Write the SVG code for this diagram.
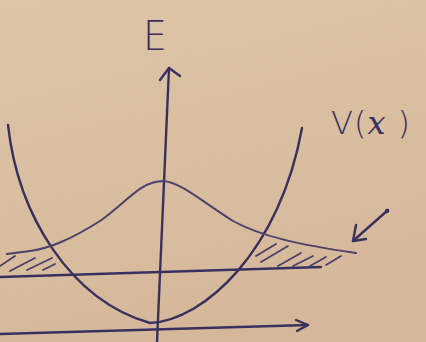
<svg xmlns="http://www.w3.org/2000/svg" width="426" height="342" viewBox="0 0 426 342">
<defs>
<linearGradient id="paper" x1="0" y1="0" x2="0.3" y2="1">
<stop offset="0" stop-color="#dec5a8"/>
<stop offset="1" stop-color="#d5b899"/>
</linearGradient>
<style>
.ink{fill:none;stroke:#3a305e;stroke-width:2.4;stroke-linecap:round;stroke-linejoin:round}
.thin{fill:none;stroke:#4d416c;stroke-width:2;stroke-linecap:round;stroke-linejoin:round}
.hatch{fill:none;stroke:#4a3f68;stroke-width:1.8;stroke-linecap:round}
.lbl{font-family:"DejaVu Sans",sans-serif;font-weight:300;fill:#3a305e}
</style>
</defs>
<rect width="426" height="342" fill="url(#paper)"/>
<g id="connectors">
<g id="e-axis"><path class="ink" d="M157,342 L169,68"/><path class="ink" d="M160,80 L169,68 L180,76"/></g>
<g id="x-axis"><path class="ink" d="M0,334 L308,325"/><path class="ink" d="M296,320 L308,325 L297,331"/></g>
<g id="energy-level"><path class="ink" d="M0,277 L321,267"/></g>
<g id="pointer"><path class="ink" d="M388,210 L353,241"/><path class="ink" d="M356,225 L353,241 L366,239"/><circle cx="387" cy="211" r="2.2" fill="#3a305e"/></g>
</g>
<g id="potential"><path class="ink" d="M8,125 C18,215 70,300 150,323 C205,320 280,250 302,128"/></g>
<g id="wavefunction"><path class="thin" d="M7,254 L30,251 C50,248 70,240 100,221 C125,204 140,181 163,181 C180,182 200,200 233,221 C260,236 300,245 356,253"/></g>
<g id="hatch-left">
<path class="hatch" d="M0,266 L15,256 M10,271 L35,258 M27,270 L52,258 M43,270 L55,264"/>
</g>
<g id="hatch-right">
<path class="hatch" d="M256,256 L276,244 M261,262 L288,246 M278,266 L301,253 M293,266 L313,256 M310,266 L326,257 M326,265 L341,256"/>
</g>
<g id="label-E"><text class="lbl" x="143" y="50" font-size="40" textLength="24" lengthAdjust="spacingAndGlyphs">E</text></g>
<g id="label-V"><text class="lbl" x="331" y="134" font-size="32" letter-spacing="1">V(<tspan font-family="DejaVu Serif" font-style="italic">x</tspan> )</text></g>
</svg>
